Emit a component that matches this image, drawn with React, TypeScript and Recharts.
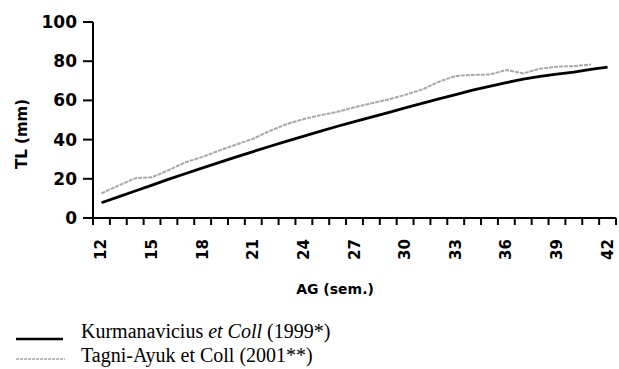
import React from "react";
import { LineChart, Line, XAxis, YAxis, Label } from "recharts";

// gestational age (weeks)
const weeks = [
  12, 13, 14, 15, 16, 17, 18, 19, 20, 21, 22, 23, 24, 25, 26, 27, 28, 29, 30,
  31, 32, 33, 34, 35, 36, 37, 38, 39, 40, 41, 42,
];

// Kurmanavicius et Coll (1999)
const kurmanavicius = [
  7.8, 10.8, 13.8, 16.8, 19.8, 22.7, 25.6, 28.4, 31.2, 33.9, 36.6, 39.2, 41.8,
  44.3, 46.8, 49.2, 51.5, 53.8, 56.2, 58.5, 60.8, 63.0, 65.2, 67.2, 69.1, 70.8,
  72.2, 73.4, 74.4, 75.8, 77.0,
];

// Tagni-Ayuk et Coll (2001), stops at week 41
const tagniAyuk = [
  12.6, 16.5, 20.3, 20.8, 24.5, 28.5, 31.2, 34.5, 37.5, 40.5, 44.5, 48.0, 50.5,
  52.5, 54.2, 56.5, 58.5, 60.5, 62.8, 65.5, 69.5, 72.5, 73.0, 73.2, 75.5, 73.8,
  76.2, 77.2, 77.5, 78.3,
];

const labelWeeks = [12, 15, 18, 21, 24, 27, 30, 33, 36, 39, 42];
const yTicks = [0, 20, 40, 60, 80, 100];

const data = weeks.map((w, i) => ({
  week: w,
  kurm: kurmanavicius[i],
  tagni: i < tagniAyuk.length ? tagniAyuk[i] : null,
}));

// band boundaries get a tick mark, labelled weeks get a label
const xTicks = [
  ...weeks.map((w) => w - 0.5),
  weeks[weeks.length - 1] + 0.5,
  ...labelWeeks,
].sort((a, b) => a - b);

const axisFont = "'DejaVu Sans', sans-serif";

function XTick(props: any) {
  const { x, y, payload } = props;
  const v = payload.value;
  if (!Number.isInteger(v)) {
    return (
      <line x1={x} x2={x} y1={y} y2={y + 7} stroke="#000" strokeWidth={2} />
    );
  }
  if (labelWeeks.includes(v)) {
    const ty = y + 21;
    return (
      <text
        x={x}
        y={ty}
        transform={`rotate(-90 ${x} ${ty})`}
        textAnchor="end"
        dominantBaseline="central"
        fontFamily={axisFont}
        fontWeight="bold"
        fontSize={15}
        fill="#000"
      >
        {v}
      </text>
    );
  }
  return <g />;
}

export default function App() {
  return (
    <div
      style={{
        position: "absolute",
        left: 0,
        top: 0,
        width: 619,
        height: 369,
        background: "#fff",
      }}
    >
      <LineChart
        width={619}
        height={300}
        data={data}
        margin={{ top: 22, right: 3, left: 0, bottom: 0 }}
      >
        <XAxis
          dataKey="week"
          type="number"
          domain={[11.5, 42.5]}
          ticks={xTicks}
          interval={0}
          tickSize={0}
          tickMargin={0}
          tickLine={false}
          tick={<XTick />}
          height={82}
          axisLine={{ stroke: "#000", strokeWidth: 2 }}
        >
          <Label
            content={() => (
              <text
                x={335}
                y={289}
                textAnchor="middle"
                dominantBaseline="central"
                fontFamily={axisFont}
                fontWeight="bold"
                fontSize={14}
                fill="#000"
              >
                AG (sem.)
              </text>
            )}
          />
        </XAxis>
        <YAxis
          type="number"
          domain={[0, 100]}
          ticks={yTicks}
          width={93}
          tickSize={10}
          tickMargin={6}
          axisLine={{ stroke: "#000", strokeWidth: 2 }}
          tickLine={{ stroke: "#000", strokeWidth: 2 }}
          tick={{
            fontFamily: axisFont,
            fontWeight: "bold",
            fontSize: 17,
            fill: "#000",
          }}
        >
          <Label
            content={() => (
              <text
                x={22}
                y={134}
                transform="rotate(-90 22 134)"
                textAnchor="middle"
                dominantBaseline="central"
                fontFamily={axisFont}
                fontWeight="bold"
                fontSize={15}
                fill="#000"
              >
                TL (mm)
              </text>
            )}
          />
        </YAxis>
        <Line
          dataKey="tagni"
          type="linear"
          stroke="#a8a8a8"
          strokeWidth={2}
          strokeDasharray="4 1"
          dot={false}
          isAnimationActive={false}
        />
        <Line
          dataKey="kurm"
          type="linear"
          stroke="#000"
          strokeWidth={2.8}
          dot={false}
          isAnimationActive={false}
        />
      </LineChart>

      <div
        style={{
          position: "absolute",
          left: 0,
          top: 319,
          fontFamily: "'Liberation Serif', 'Times New Roman', serif",
          fontSize: 20,
          lineHeight: "24px",
          color: "#000",
        }}
      >
        <div style={{ display: "flex", alignItems: "center" }}>
          <svg width={81} height={24}>
            <line x1={16} x2={63} y1={20} y2={20} stroke="#000" strokeWidth={2.5} />
          </svg>
          <span>
            Kurmanavicius <i>et Coll</i> (1999*)
          </span>
        </div>
        <div style={{ display: "flex", alignItems: "center" }}>
          <svg width={81} height={24}>
            <line
              x1={16}
              x2={65}
              y1={16}
              y2={16}
              stroke="#a8a8a8"
              strokeWidth={1.5}
              strokeDasharray="3 1"
            />
          </svg>
          <span>Tagni-Ayuk et Coll (2001**)</span>
        </div>
      </div>
    </div>
  );
}
